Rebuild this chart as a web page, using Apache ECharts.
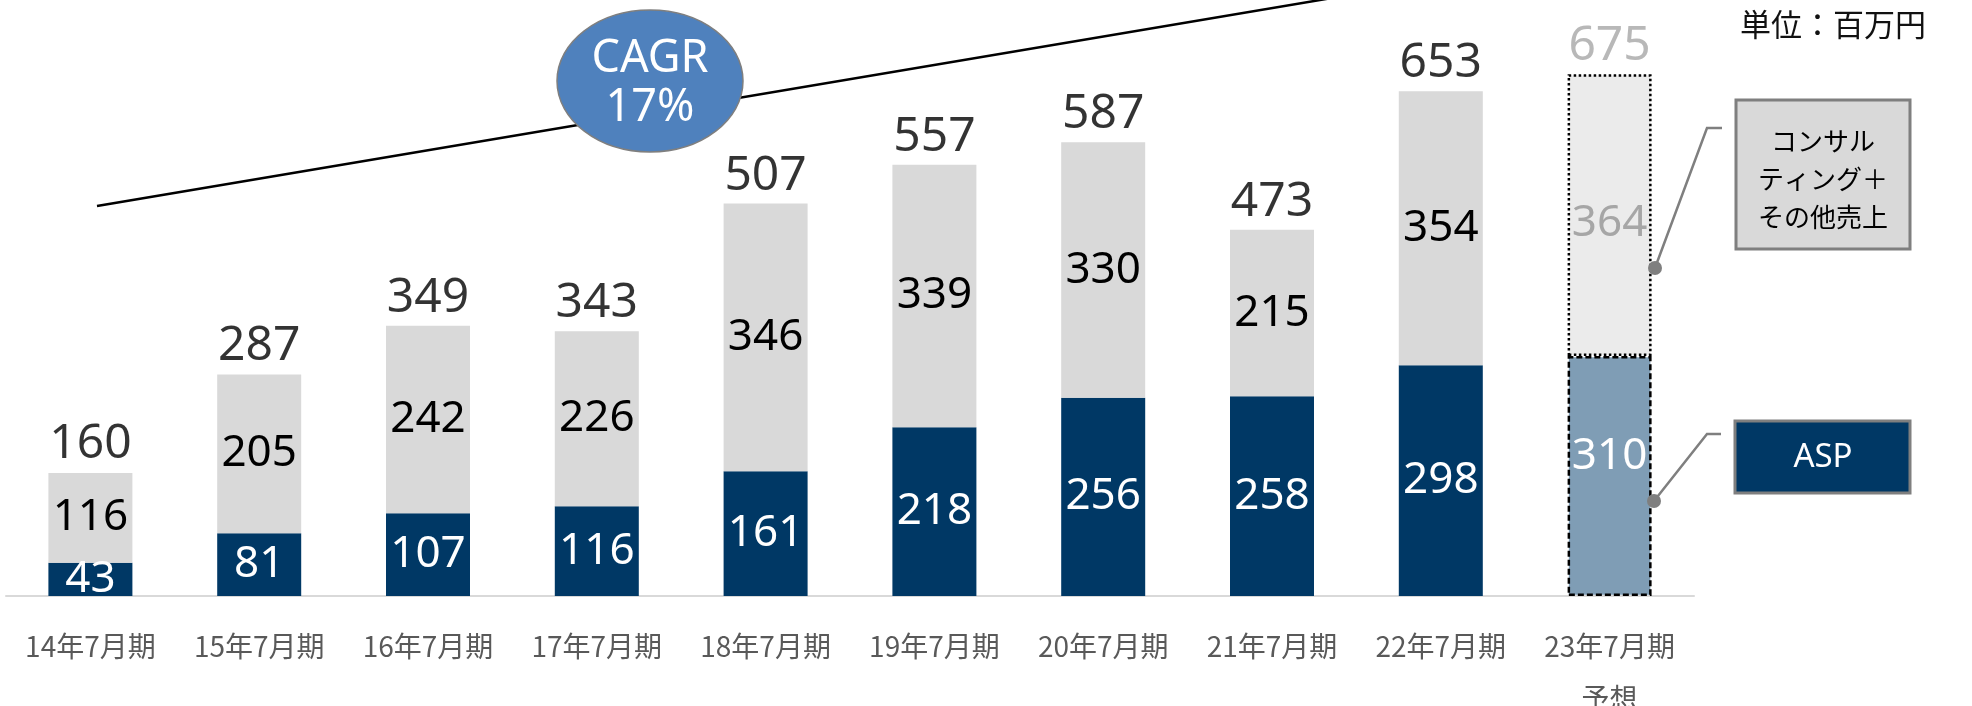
<!DOCTYPE html>
<html>
<head>
<meta charset="utf-8">
<script src="https://cdn.jsdelivr.net/npm/echarts@6/dist/echarts.min.js"></script>
<style>
  html, body { margin: 0; padding: 0; background: #fff; }
  #chart { width: 1972px; height: 706px; }
</style>
</head>
<body>
<div id="chart"></div>
<script>
// 決算期
const categories = ['14年7月期', '15年7月期', '16年7月期', '17年7月期', '18年7月期',
  '19年7月期', '20年7月期', '21年7月期', '22年7月期', '23年7月期\n予想'];
// ASP
const aspValues = [43, 81, 107, 116, 161, 218, 256, 258, 298, 310];
// コンサルティング＋その他売上
const consultValues = [116, 205, 242, 226, 346, 339, 330, 215, 354, 364];
// 合計
const totalValues = [160, 287, 349, 343, 507, 557, 587, 473, 653, 675];

const numFont = '"Noto Sans", "Liberation Sans", sans-serif';
const jpFont = '"Noto Sans CJK JP", "Noto Sans", sans-serif';
const lastIdx = categories.length - 1;

const chart = echarts.init(document.getElementById('chart'));

// 予想の期は点線枠・淡色
const aspData = aspValues.map((v, i) => i === lastIdx ? {
  value: v,
  itemStyle: { color: '#7f9db5', borderColor: '#000', borderWidth: 2.5, borderType: [6, 3] },
  label: { offset: [0, -20] }
} : v);

const consultData = consultValues.map((v, i) => i === lastIdx ? {
  value: v,
  itemStyle: { color: '#ebebeb', borderColor: '#000', borderWidth: 2.5, borderType: [2.5, 2.5] },
  label: { color: '#a6a6a6', offset: [0, 8] }
} : v);

const totalData = totalValues.map((v, i) => i === lastIdx ? {
  value: v,
  label: { color: '#a6a6a6' }
} : v);

const option = {
  animation: false,
  grid: { left: 6, right: 278, top: 54, bottom: 110, outerBoundsMode: 'none', containLabel: false },
  xAxis: {
    type: 'category',
    data: categories,
    axisLine: { lineStyle: { color: '#d9d9d9', width: 2 } },
    axisTick: { show: false },
    axisLabel: {
      interval: 0,
      hideOverlap: false,
      color: '#595959',
      fontSize: 28,
      fontFamily: jpFont,
      lineHeight: 52,
      margin: 24
    }
  },
  yAxis: {
    type: 'value',
    min: 0,
    max: 700,
    show: false
  },
  series: [
    {
      name: 'ASP',
      type: 'bar',
      stack: 'sales',
      barWidth: 84,
      itemStyle: { color: '#003865' },
      label: {
        show: true,
        position: 'inside',
        color: '#fff',
        fontSize: 44,
        fontFamily: numFont
      },
      data: aspData
    },
    {
      name: 'コンサルティング＋その他売上',
      type: 'bar',
      stack: 'sales',
      barWidth: 84,
      itemStyle: { color: '#d9d9d9' },
      label: {
        show: true,
        position: 'inside',
        color: '#000',
        fontSize: 44,
        fontFamily: numFont
      },
      data: consultData
    },
    {
      name: '合計',
      type: 'scatter',
      symbolSize: 1,
      itemStyle: { color: 'rgba(0,0,0,0)' },
      label: {
        show: true,
        position: 'top',
        distance: 3,
        color: '#000',
        fontSize: 48,
        lineHeight: 48,
        fontFamily: numFont
      },
      z: 5,
      data: totalData
    }
  ],
  graphic: [
    // CAGR 線
    {
      type: 'line',
      shape: { x1: 97, y1: 206, x2: 1332, y2: -2 },
      style: { stroke: '#000', lineWidth: 2.5 },
      z: 10
    },
    {
      type: 'ellipse',
      shape: { cx: 650, cy: 81, rx: 93, ry: 71 },
      style: { fill: '#4f81bd', stroke: '#7f7f7f', lineWidth: 1.5 },
      z: 11
    },
    {
      type: 'text',
      style: {
        x: 650, y: 84,
        text: 'CAGR\n17%',
        fill: '#fff',
        fontSize: 45,
        fontFamily: numFont,
        lineHeight: 49,
        align: 'center',
        verticalAlign: 'middle'
      },
      z: 12
    },
    // 単位
    {
      type: 'text',
      style: {
        x: 1926, y: 24,
        text: '単位：百万円',
        fill: '#111',
        fontSize: 31,
        fontFamily: jpFont,
        align: 'right',
        verticalAlign: 'middle'
      },
      z: 12
    },
    // 凡例: コンサルティング＋その他売上
    {
      type: 'polyline',
      shape: { points: [[1655, 268], [1707, 128], [1722, 128]] },
      style: { stroke: '#7f7f7f', lineWidth: 2.5, fill: null },
      z: 10
    },
    {
      type: 'circle',
      shape: { cx: 1655, cy: 268, r: 7 },
      style: { fill: '#7f7f7f' },
      z: 11
    },
    {
      type: 'rect',
      shape: { x: 1736, y: 100, width: 174, height: 149 },
      style: { fill: '#d9d9d9', stroke: '#7f7f7f', lineWidth: 3 },
      z: 10
    },
    {
      type: 'text',
      style: {
        x: 1823, y: 179,
        text: 'コンサル\nティング＋\nその他売上',
        fill: '#000',
        fontSize: 26,
        lineHeight: 38,
        fontFamily: jpFont,
        align: 'center',
        verticalAlign: 'middle'
      },
      z: 12
    },
    // 凡例: ASP
    {
      type: 'polyline',
      shape: { points: [[1654, 501], [1707, 434], [1721, 434]] },
      style: { stroke: '#7f7f7f', lineWidth: 2.5, fill: null },
      z: 10
    },
    {
      type: 'circle',
      shape: { cx: 1654, cy: 501, r: 7 },
      style: { fill: '#7f7f7f' },
      z: 11
    },
    {
      type: 'rect',
      shape: { x: 1735, y: 421, width: 175, height: 72 },
      style: { fill: '#003865', stroke: '#7f7f7f', lineWidth: 3 },
      z: 10
    },
    {
      type: 'text',
      style: {
        x: 1823, y: 458,
        text: 'ASP',
        fill: '#fff',
        fontSize: 33,
        fontFamily: numFont,
        align: 'center',
        verticalAlign: 'middle'
      },
      z: 12
    }
  ]
};

chart.setOption(option);
</script>
</body>
</html>
